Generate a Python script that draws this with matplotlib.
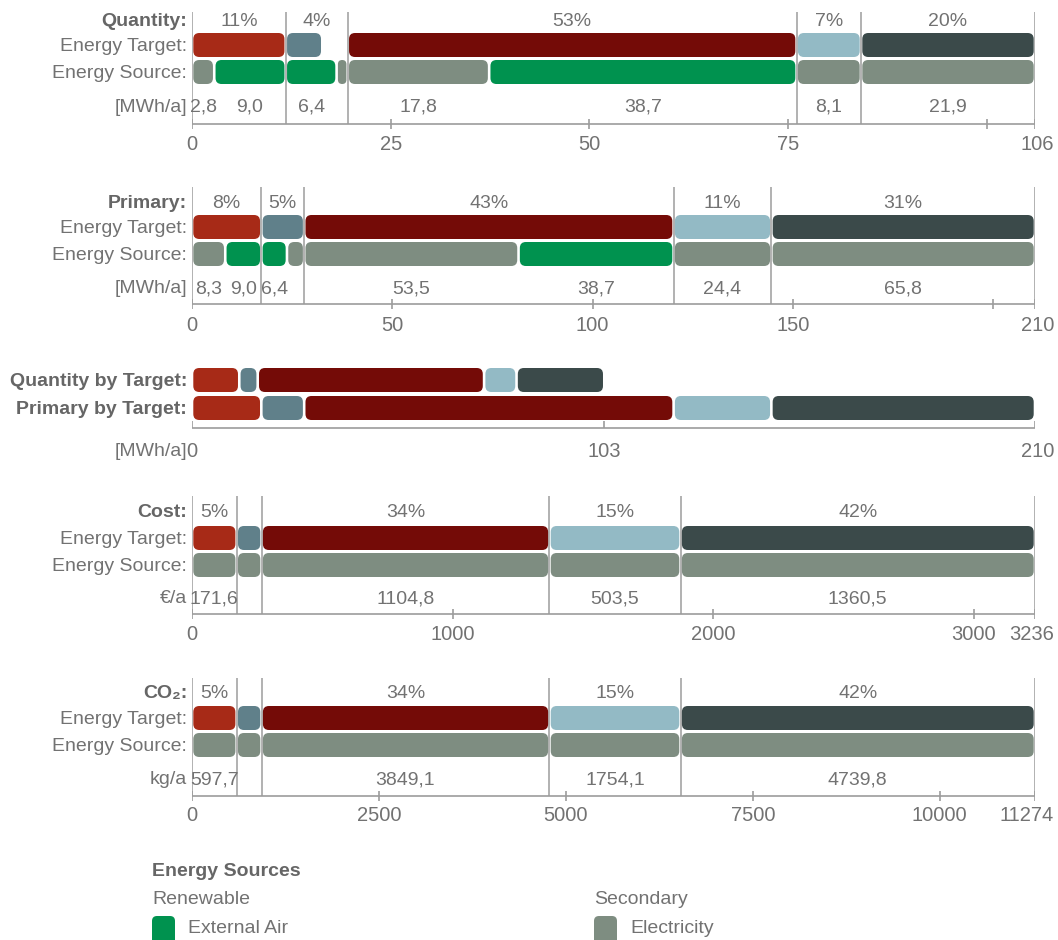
import math
import matplotlib
matplotlib.use('Agg')
import matplotlib.pyplot as plt
from matplotlib.patches import FancyBboxPatch
from matplotlib.transforms import offset_copy

plt.rcParams['font.family'] = ['Liberation Sans', 'DejaVu Sans']

# ---------------- data ----------------
target_colors = ['#A72A17', '#60808A', '#740B07', '#93BAC5', '#3B4A4A']
source_colors = {'Electricity': '#7E8D81', 'External Air': '#00924F'}

qty_target = [11.8, 4.6, 56.5, 8.1, 21.9]
qty_source = [[('Electricity', 2.8), ('External Air', 9.0)],
              [('External Air', 6.4), ('Electricity', 1.4)],
              [('Electricity', 17.8), ('External Air', 38.7)],
              [('Electricity', 8.1)],
              [('Electricity', 21.9)]]
qty_labeled = [[True, True], [True, False], [True, True], [True], [True]]
qty_ticks = [0, 25, 50, 75, 100]

prim_source = [[('Electricity', 8.3), ('External Air', 9.0)],
               [('External Air', 6.4), ('Electricity', 4.3)],
               [('Electricity', 53.5), ('External Air', 38.7)],
               [('Electricity', 24.4)],
               [('Electricity', 65.8)]]
prim_labeled = [[True, True], [True, False], [True, True], [True], [True]]
prim_ticks = [0, 50, 100, 150, 200]

cost_source = [171.6, 95.6, 1104.8, 503.5, 1360.5]
cost_labeled = [True, False, True, True, True]
cost_ticks = [0, 1000, 2000, 3000]

co2_source = [597.7, 333.3, 3849.1, 1754.1, 4739.8]
co2_labeled = [True, False, True, True, True]
co2_ticks = [0, 2500, 5000, 7500, 10000]

legend_groups = ['Renewable', 'Secondary']
legend_sources = ['External Air', 'Electricity']

# ---------------- layout / style ----------------
W, H = 1058, 940
X0, X1 = 192, 1035
BAR_H = 24
TXT = '#727272'
BOLD = '#666666'
LINE = '#9c9c9c'
FS = 14
FS_TICK = 14.5
LABEL_X = 187
TY = 1.5  # small downward nudge so glyphs sit on the row centre

fig = plt.figure(figsize=(W / 100, H / 100), dpi=100)
fig.patch.set_facecolor('white')

lay = fig.add_axes([0, 0, 1, 1])
lay.set_xlim(0, W)
lay.set_ylim(H, 0)
lay.axis('off')


def fmt(v):
    return f"{v:.1f}".replace('.', ',')


def make_axes(total, y_top, y_bot):
    ax = fig.add_axes([X0 / W, 1 - y_bot / H, (X1 - X0) / W, (y_bot - y_top) / H])
    ax.set_xlim(0, total)
    ax.set_ylim(y_bot, y_top)
    ax.axis('off')
    return ax


def rbar(ax, x, w, yc, total, color):
    sx = (X1 - X0) / total
    wpx = w * sx - 2.6
    if wpx <= 0:
        return
    r = min(6.0, wpx / 2, BAR_H / 2)
    p = FancyBboxPatch((x + 1.3 / sx, yc - BAR_H / 2), wpx / sx, BAR_H,
                       boxstyle=f"round,pad=0,rounding_size={r / sx}",
                       mutation_aspect=sx, fc=color, ec='none', zorder=3)
    ax.add_patch(p)


def axis_line(ax, total, L, ticks, end_label):
    sx = (X1 - X0) / total
    ax.hlines(L['axis'], 0, total, color=LINE, lw=1.2, zorder=1)
    ax.vlines(list(ticks) + [total], L['axis'] - 5, L['axis'] + 5, color=LINE, lw=1.2, zorder=1)
    for t in ticks:
        if (total - t) * sx >= 50:
            ax.text(t, L['tick'] + TY, f"{t:g}", ha='center', va='center', fontsize=FS_TICK, color=TXT)
    tr = offset_copy(ax.transData, fig=fig, x=19, y=0, units='dots')
    ax.text(total, L['tick'] + TY, end_label, ha='right', va='center', fontsize=FS_TICK,
            color=TXT, transform=tr)


def draw_section(groups, target_vals, labeled, ticks, L, header, unit):
    total = sum(v for g in groups for _, v in g)
    sx = (X1 - X0) / total
    ax = make_axes(total, L['top'] - 2, L['tick'] + 14)
    sums = [sum(v for _, v in g) for g in groups]
    bounds = [0]
    for s in sums:
        bounds.append(bounds[-1] + s)
    ax.vlines(bounds, L['top'], L['axis'], color=LINE, lw=1.1, zorder=1)
    for i, g in enumerate(groups):
        g0 = bounds[i]
        rbar(ax, g0, target_vals[i], L['target'], total, target_colors[i])
        x = g0
        for (src, v), lab in zip(g, labeled[i]):
            rbar(ax, x, v, L['source'], total, source_colors[src])
            if lab:
                ax.text(x + v / 2, L['value'] + TY, fmt(v), ha='center', va='center',
                        fontsize=FS, color=TXT)
            x += v
        if sums[i] * sx >= 30:
            pct = math.floor(target_vals[i] / total * 100)
            ax.text(g0 + sums[i] / 2, L['header'] + TY, f"{pct}%", ha='center', va='center',
                    fontsize=FS, color=TXT)
    axis_line(ax, total, L, ticks, f"{round(total)}")
    lay.text(LABEL_X, L['header'] + TY, header, ha='right', va='center', fontsize=FS,
             fontweight='bold', color=BOLD)
    lay.text(LABEL_X, L['target'] + TY, 'Energy Target:', ha='right', va='center', fontsize=FS, color=TXT)
    lay.text(LABEL_X, L['source'] + TY, 'Energy Source:', ha='right', va='center', fontsize=FS, color=TXT)
    lay.text(LABEL_X, L['value'] + TY, unit, ha='right', va='center', fontsize=FS, color=TXT)
    return total


L_qty = dict(top=12, header=20, target=45, source=72, value=106, axis=124, tick=143)
L_prim = dict(top=187, header=202, target=227, source=254, value=287, axis=304, tick=324)
L_cost = dict(top=496, header=511, target=538, source=565, value=597, axis=614, tick=633)
L_co2 = dict(top=678, header=692, target=718, source=745, value=778, axis=796, tick=814)

qty_total = draw_section(qty_source, qty_target, qty_labeled, qty_ticks, L_qty, 'Quantity:', '[MWh/a]')
prim_target = [sum(v for _, v in g) for g in prim_source]
prim_total = draw_section(prim_source, prim_target, prim_labeled, prim_ticks, L_prim, 'Primary:', '[MWh/a]')

cost_groups = [[('Electricity', v)] for v in cost_source]
co2_groups = [[('Electricity', v)] for v in co2_source]
cost_lab = [[b] for b in cost_labeled]
co2_lab = [[b] for b in co2_labeled]
draw_section(cost_groups, cost_source, cost_lab, cost_ticks, L_cost, 'Cost:', '€/a')
draw_section(co2_groups, co2_source, co2_lab, co2_ticks, L_co2, 'CO₂:', 'kg/a')

# ---------------- combined "by target" section ----------------
L_comb = dict(q=380, p=408, axis=428, tick=450)
axc = make_axes(prim_total, 362, 464)
x = 0
for i, v in enumerate(qty_target):
    rbar(axc, x, v, L_comb['q'], prim_total, target_colors[i])
    x += v
qty_by_target_total = x
x = 0
for i, v in enumerate(prim_target):
    rbar(axc, x, v, L_comb['p'], prim_total, target_colors[i])
    x += v
axc.hlines(L_comb['axis'], 0, prim_total, color=LINE, lw=1.2, zorder=1)
axc.vlines([0, qty_by_target_total, prim_total], L_comb['axis'] - 7, L_comb['axis'],
           color=LINE, lw=1.2, zorder=1)
axc.text(0, L_comb['tick'] + TY, '0', ha='center', va='center', fontsize=FS_TICK, color=TXT)
axc.text(qty_by_target_total, L_comb['tick'] + TY, f"{round(qty_by_target_total)}", ha='center',
         va='center', fontsize=FS_TICK, color=TXT)
trc = offset_copy(axc.transData, fig=fig, x=19, y=0, units='dots')
axc.text(prim_total, L_comb['tick'] + TY, f"{round(prim_total)}", ha='right', va='center',
         fontsize=FS_TICK, color=TXT, transform=trc)
lay.text(LABEL_X, L_comb['q'] + TY, 'Quantity by Target:', ha='right', va='center', fontsize=FS,
         fontweight='bold', color=BOLD)
lay.text(LABEL_X, L_comb['p'] + TY, 'Primary by Target:', ha='right', va='center', fontsize=FS,
         fontweight='bold', color=BOLD)
lay.text(LABEL_X, L_comb['tick'] + TY, '[MWh/a]', ha='right', va='center', fontsize=FS, color=TXT)

# ---------------- legend ----------------
lay.text(152, 870 + TY, 'Energy Sources', ha='left', va='center', fontsize=FS, fontweight='bold', color=BOLD)
for gx, grp, src in zip([152, 594], legend_groups, legend_sources):
    lay.text(gx, 898 + TY, grp, ha='left', va='center', fontsize=FS, color=TXT)
    lay.add_patch(FancyBboxPatch((gx, 916), 23, 30, boxstyle="round,pad=0,rounding_size=5",
                                 fc=source_colors[src], ec='none'))
    lay.text(gx + 36, 927 + TY, src, ha='left', va='center', fontsize=FS, color=TXT)

fig.savefig('out.png', dpi=100, facecolor='white')
